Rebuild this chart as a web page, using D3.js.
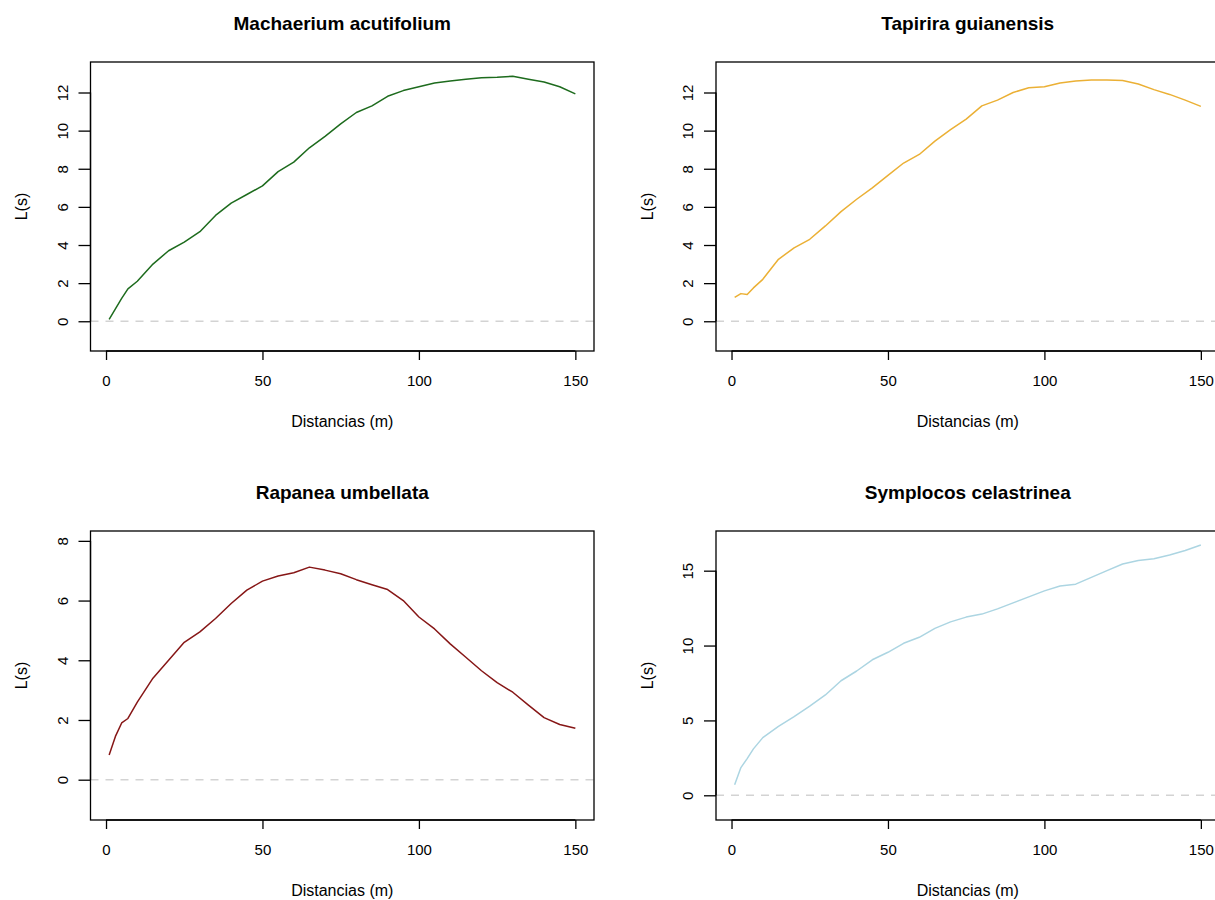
<!DOCTYPE html>
<html>
<head>
<meta charset="utf-8">
<script src="https://cdn.jsdelivr.net/npm/d3@7"></script>
<style>
  html, body { margin: 0; padding: 0; background: #fff; }
  svg { display: block; }
  text { font-family: "Liberation Sans", Arial, Helvetica, sans-serif; fill: #000; }
</style>
</head>
<body>
<svg id="chart" width="1215" height="900"></svg>
<script>
// ---- data ----
const distances = [1, 3, 5, 7, 10, 15, 20, 25, 30, 35, 40, 45, 50, 55, 60, 65, 70, 75, 80, 85, 90, 95, 100, 105, 110, 115, 120, 125, 130, 135, 140, 145, 150];

const machaerium = [0.1, 0.65, 1.2, 1.7, 2.1, 3.0, 3.7, 4.15, 4.7, 5.55, 6.2, 6.65, 7.1, 7.85, 8.35, 9.1, 9.7, 10.35, 10.95, 11.3, 11.8, 12.1, 12.3, 12.5, 12.6, 12.7, 12.78, 12.8, 12.85, 12.7, 12.55, 12.3, 11.93];
const tapirira   = [1.25, 1.45, 1.4, 1.75, 2.2, 3.25, 3.85, 4.3, 5.0, 5.75, 6.4, 7.0, 7.65, 8.3, 8.75, 9.45, 10.05, 10.6, 11.3, 11.6, 12.0, 12.25, 12.3, 12.5, 12.6, 12.65, 12.65, 12.63, 12.45, 12.15, 11.9, 11.6, 11.27];
const rapanea    = [0.83, 1.45, 1.9, 2.05, 2.6, 3.4, 4.0, 4.6, 4.95, 5.4, 5.9, 6.35, 6.65, 6.82, 6.93, 7.12, 7.02, 6.9, 6.7, 6.53, 6.37, 6.0, 5.45, 5.05, 4.55, 4.1, 3.65, 3.25, 2.93, 2.5, 2.08, 1.85, 1.72];
const symplocos  = [0.7, 1.85, 2.45, 3.1, 3.85, 4.6, 5.25, 5.95, 6.7, 7.65, 8.3, 9.05, 9.55, 10.15, 10.55, 11.15, 11.58, 11.9, 12.1, 12.45, 12.85, 13.25, 13.65, 13.98, 14.1, 14.55, 15.0, 15.45, 15.68, 15.8, 16.05, 16.35, 16.72];

const titles = ["Machaerium acutifolium", "Tapirira guianensis", "Rapanea umbellata", "Symplocos celastrinea"];
const xTicks = [0, 50, 100, 150];
const yTicks1 = [0, 2, 4, 6, 8, 10, 12];
const yTicks2 = [0, 2, 4, 6, 8, 10, 12];
const yTicks3 = [0, 2, 4, 6, 8];
const yTicks4 = [0, 5, 10, 15];
const xLabel = "Distancias (m)";
const yLabel = "L(s)";

// ---- layout ----
const svg = d3.select("#chart");
const boxW = 503.5, boxH = 289;
const panels = [
  { left: 90.5, top: 62,  values: machaerium, color: "#1d6b1d", yDomain: [-1.56, 13.6], yTicks: yTicks1, title: titles[0] },
  { left: 716,  top: 62,  values: tapirira,   color: "#ebb035", yDomain: [-1.56, 13.6], yTicks: yTicks2, title: titles[1] },
  { left: 90.5, top: 531, values: rapanea,    color: "#861616", yDomain: [-1.35, 8.33], yTicks: yTicks3, title: titles[2] },
  { left: 716,  top: 531, values: symplocos,  color: "#acd5e2", yDomain: [-1.65, 17.65], yTicks: yTicks4, title: titles[3] }
];

panels.forEach(p => {
  const g = svg.append("g").attr("transform", `translate(${p.left},${p.top})`);
  const x = d3.scaleLinear().domain([-4.96, 155.96]).range([0, boxW]);
  const y = d3.scaleLinear().domain(p.yDomain).range([boxH, 0]);

  // zero reference line
  g.append("line")
    .attr("x1", 0).attr("x2", boxW)
    .attr("y1", y(0)).attr("y2", y(0))
    .attr("stroke", "#d3d3d3").attr("stroke-width", 1.5)
    .attr("stroke-dasharray", "8,7");

  // curve
  const line = d3.line().x((d, i) => x(distances[i])).y(d => y(d)).curve(d3.curveLinear);
  g.append("path").datum(p.values)
    .attr("d", line)
    .attr("fill", "none")
    .attr("stroke", p.color)
    .attr("stroke-width", 1.5)
    .attr("stroke-linejoin", "round");

  // box
  g.append("rect").attr("x", 0).attr("y", 0).attr("width", boxW).attr("height", boxH)
    .attr("fill", "none").attr("stroke", "#000").attr("stroke-width", 1.3);

  // x axis
  const xa = g.append("g").attr("transform", `translate(0,${boxH})`)
    .call(d3.axisBottom(x).tickValues(xTicks).tickSize(9).tickPadding(26).tickFormat(d3.format("d")));
  xa.select(".domain").attr("stroke", "#000").attr("stroke-width", 1.3)
    .attr("d", `M${x(0)},0H${x(150)}`);
  xa.selectAll(".tick line").attr("stroke", "#000").attr("stroke-width", 1.3);
  xa.selectAll(".tick text").attr("font-size", 15).attr("font-family", "Liberation Sans, Arial, sans-serif")
    .attr("dy", "0");

  // y axis
  const ya = g.append("g")
    .call(d3.axisLeft(y).tickValues(p.yTicks).tickSize(12).tickFormat(d3.format("d")));
  ya.select(".domain").attr("stroke", "#000").attr("stroke-width", 1.3)
    .attr("d", `M0,${y(p.yTicks[0])}V${y(p.yTicks[p.yTicks.length - 1])}`);
  ya.selectAll(".tick line").attr("stroke", "#000").attr("stroke-width", 1.3);
  ya.selectAll(".tick text")
    .attr("font-size", 15).attr("font-family", "Liberation Sans, Arial, sans-serif")
    .attr("x", null).attr("dy", null)
    .attr("text-anchor", "middle")
    .attr("transform", "translate(-23,0) rotate(-90)");

  // titles and labels
  g.append("text").attr("x", boxW / 2).attr("y", -32)
    .attr("text-anchor", "middle").attr("font-size", 19).attr("font-weight", "bold")
    .text(p.title);
  g.append("text").attr("x", boxW / 2).attr("y", boxH + 76)
    .attr("text-anchor", "middle").attr("font-size", 16)
    .text(xLabel);
  g.append("text")
    .attr("transform", `translate(${27 - 90.5},${boxH / 2}) rotate(-90)`)
    .attr("text-anchor", "middle").attr("font-size", 16)
    .text(yLabel);
});
</script>
</body>
</html>
